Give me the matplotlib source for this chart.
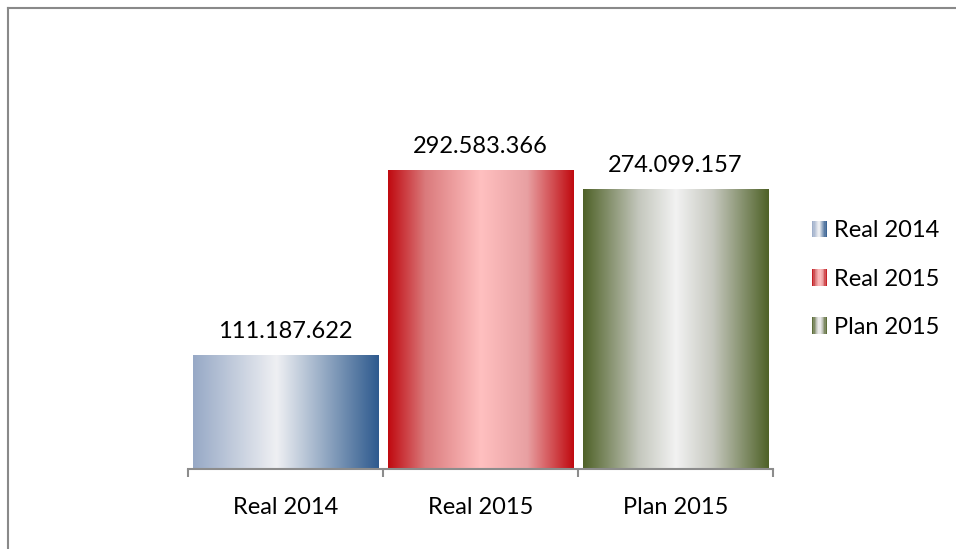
import numpy as np
import matplotlib
matplotlib.use("Agg")
import matplotlib.pyplot as plt
from matplotlib.colors import LinearSegmentedColormap
from matplotlib.legend_handler import HandlerBase
from matplotlib.patches import Rectangle
from matplotlib.lines import Line2D

categories = ["Real 2014", "Real 2015", "Plan 2015"]
values = [111187622, 292583366, 274099157]
value_labels = ["111.187.622", "292.583.366", "274.099.157"]

# horizontal gradient stops for each bar (cylinder look)
gradients = [
    [(0.0, "#97A9C6"), (0.45, "#EFF0F3"), (1.0, "#2E5A8E")],
    [(0.0, "#C00A10"), (0.2, "#DA7A7C"), (0.5, "#FFC0C0"), (0.75, "#E8A0A2"), (1.0, "#C00A10")],
    [(0.0, "#4F6228"), (0.3, "#C4C7BD"), (0.5, "#F2F2F2"), (0.7, "#C6C8BF"), (1.0, "#4F6228")],
]
cmaps = [LinearSegmentedColormap.from_list("g%d" % i, g) for i, g in enumerate(gradients)]

plt.rcParams['font.family'] = ['Lato', 'DejaVu Sans']

fig = plt.figure(figsize=(9.56, 5.49), dpi=100)
ax = fig.add_axes([188 / 956, 80 / 549, 585 / 956, 356.5 / 549])

x = np.arange(len(categories))
bars = ax.bar(x, values, width=0.95, color="none", edgecolor="none")

grad = np.linspace(0, 1, 256).reshape(1, -1)
for bar, cm in zip(bars, cmaps):
    x0 = bar.get_x()
    w = bar.get_width()
    h = bar.get_height()
    ax.imshow(grad, cmap=cm, extent=[x0, x0 + w, 0, h], aspect="auto", zorder=2)

for xi, v, lab in zip(x, values, value_labels):
    ax.annotate(lab, (xi, v), xytext=(0, 13), textcoords="offset points",
                ha="center", va="baseline", fontsize=17, color="black")

ax.set_xlim(-0.5, len(categories) - 0.5)
ax.set_ylim(0, 350e6)
for s in ["top", "left", "right"]:
    ax.spines[s].set_visible(False)
ax.spines["bottom"].set_color("#8C8C8C")
ax.spines["bottom"].set_linewidth(1.5)
ax.set_yticks([])
ax.set_xticks(x)
ax.set_xticklabels(categories, fontsize=17)
ax.tick_params(axis="x", which="major", length=0, pad=20)
ax.set_xticks(np.arange(-0.5, len(categories)), minor=True)
ax.tick_params(axis="x", which="minor", length=6, width=1.5, color="#8C8C8C")


class GradientHandler(HandlerBase):
    def __init__(self, cmap):
        super().__init__()
        self.cmap = cmap

    def create_artists(self, legend, orig_handle, xdescent, ydescent, width, height, fontsize, trans):
        n = 12
        arts = []
        for i in range(n):
            r = Rectangle((-xdescent + width * i / n, -ydescent), width / n + 0.3, height,
                          facecolor=self.cmap((i + 0.5) / n), edgecolor="none", transform=trans)
            arts.append(r)
        return arts


handles = [Rectangle((0, 0), 1, 1) for _ in categories]
fig.legend(handles, categories, loc="center left", bbox_to_anchor=(791 / 956, 1 - 279 / 549),
           frameon=False, fontsize=17, handlelength=0.62, handleheight=0.7,
           handletextpad=0.3, labelspacing=1.16,
           handler_map={h: GradientHandler(cm) for h, cm in zip(handles, cmaps)})

# outer chart border (top and left edges visible)
fig.add_artist(Line2D([7.5 / 956, 1], [1 - 7.5 / 549, 1 - 7.5 / 549], transform=fig.transFigure,
                      color="#898989", linewidth=1.5))
fig.add_artist(Line2D([7.5 / 956, 7.5 / 956], [0, 1 - 7.5 / 549], transform=fig.transFigure,
                      color="#898989", linewidth=1.5))

fig.savefig("out.png", dpi=100)
